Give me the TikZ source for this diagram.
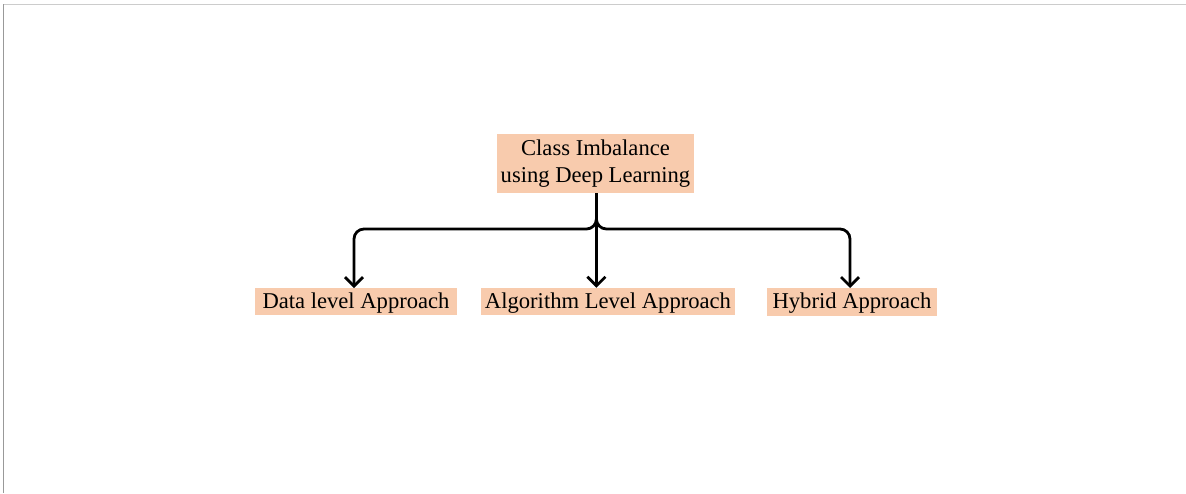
\documentclass[tikz,border=0pt]{standalone}
\usepackage{fontspec}
\setmainfont{Liberation Serif}
\usetikzlibrary{arrows.meta}
\definecolor{peach}{HTML}{F8CBAD}
\begin{document}
\begin{tikzpicture}[x=1pt,y=-1pt,
  box/.style={fill=peach, inner xsep=0pt, inner ysep=0pt, align=center,
    font=\fontsize{22.6}{27}\selectfont},
  leaf/.style={box, text height=17pt, text depth=4pt},
  conn/.style={line width=2.8pt, rounded corners=10pt,
    -{Straight Barb[length=9pt,width=18pt,line width=2.8pt]}}]
\useasboundingbox (0,0) rectangle (1186,493);
\draw[line width=1.5pt, color=black!20] (4,4.5) -- (1186,4.5);
\draw[line width=1pt, color=black!40] (3.5,4) -- (3.5,493);
\node[box, minimum width=197pt, minimum height=59pt] (top) at (595.5,163.5) {Class Imbalance\\using Deep Learning};
\node[leaf, minimum width=202pt, minimum height=27pt] (dl) at (356,301.5) {Data level Approach};
\node[leaf, minimum width=254pt, minimum height=27pt] (al) at (608,301.5) {Algorithm Level Approach};
\node[leaf, minimum width=170pt, minimum height=28pt] (hy) at (852,302) {Hybrid Approach};
\coordinate (j) at (596.4,229);
\draw[conn] (j |- top.south) -- (j) -| (354,288);
\draw[conn] (j |- top.south) -- (j) -| (850,288);
\draw[conn] (j |- top.south) -- (j |- al.north);
\end{tikzpicture}
\end{document}
